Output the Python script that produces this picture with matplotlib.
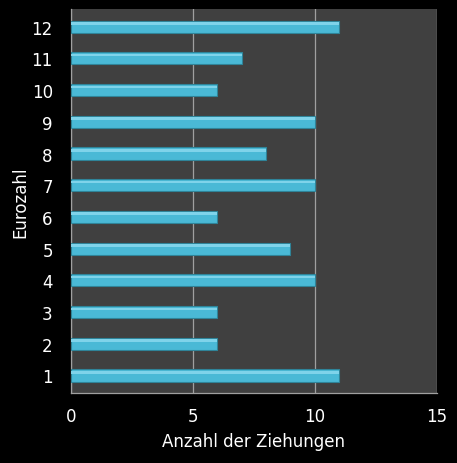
import matplotlib
matplotlib.use("Agg")
import matplotlib.pyplot as plt

eurozahlen = ["1", "2", "3", "4", "5", "6", "7", "8", "9", "10", "11", "12"]
ziehungen = [11, 6, 6, 10, 9, 6, 10, 8, 10, 6, 7, 11]
x_ticks = [0, 5, 10, 15]

fig = plt.figure(figsize=(4.57, 4.64), dpi=100, facecolor="black")
ax = fig.add_axes([0.155, 0.151, 0.801, 0.827])
ax.set_facecolor("#404040")

pos = list(range(len(eurozahlen)))
ax.barh(pos, ziehungen, height=0.38, color="#4AB9D6", edgecolor="#2F8499",
        linewidth=0.8, zorder=3)
ax.barh([p + 0.1 for p in pos], ziehungen, height=0.08, color="#7FD3EA",
        linewidth=0, zorder=4)

ax.set_xlim(0, 15)
ax.set_ylim(-0.55, len(eurozahlen) - 0.45)
ax.set_xticks(x_ticks)
ax.set_yticks(pos)
ax.set_yticklabels(eurozahlen)
ax.xaxis.grid(True, color="#A0A0A0", linewidth=0.9, zorder=1)
ax.set_axisbelow(True)

for s in ["top", "right"]:
    ax.spines[s].set_visible(False)
for s in ["left", "bottom"]:
    ax.spines[s].set_color("#A0A0A0")
    ax.spines[s].set_linewidth(0.9)

ax.tick_params(axis="both", length=0, colors="white", labelsize=12)
ax.tick_params(axis="y", pad=13)
ax.tick_params(axis="x", pad=10)
ax.set_xlabel("Anzahl der Ziehungen", color="white", fontsize=12, labelpad=5)
ax.set_ylabel("Eurozahl", color="white", fontsize=12)
ax.yaxis.set_label_coords(-0.112, 0.5)

fig.savefig("out.png", dpi=100, facecolor="black")
